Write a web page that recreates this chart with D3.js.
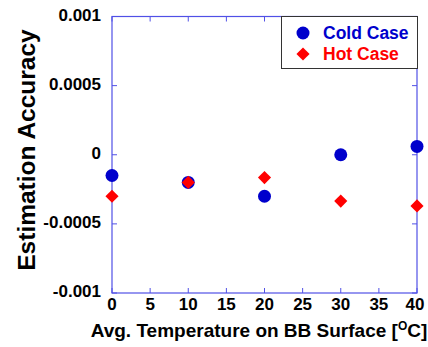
<!DOCTYPE html>
<html>
<head>
<meta charset="utf-8">
<script src="https://cdn.jsdelivr.net/npm/d3@7"></script>
<style>
  body { margin: 0; background: #fff; }
  svg { display: block; font-family: "Liberation Sans", Arial, sans-serif; font-weight: bold; }
</style>
</head>
<body>
<div id="chart"></div>
<script>
const width = 428, height = 347;
const margin = {left: 112, right: 11, top: 16.5, bottom: 54};

// data
const temps = [0, 10, 20, 30, 40];
const coldCase = [-0.00015, -0.0002, -0.0003, 0.0, 0.00006];
const hotCase = [-0.0003, -0.0002, -0.000165, -0.000335, -0.00037];
const xTicks = [0, 5, 10, 15, 20, 25, 30, 35, 40];
const yTicks = [-0.001, -0.0005, 0, 0.0005, 0.001];
const yTickLabels = ["-0.001", "-0.0005", "0", "0.0005", "0.001"];

const axisColor = "#5050e6";
const coldColor = "#0000cc", hotColor = "#ff0000";

const svg = d3.select('#chart').append('svg')
  .attr('width', width).attr('height', height);

const x = d3.scaleLinear().domain([0, 40]).range([margin.left, width - margin.right]);
const y = d3.scaleLinear().domain([-0.001, 0.001]).range([height - margin.bottom, margin.top]);

// frame
svg.append('rect')
  .attr('x', x(0)).attr('y', y(0.001))
  .attr('width', x(40) - x(0)).attr('height', y(-0.001) - y(0.001))
  .attr('fill', 'none').attr('stroke', axisColor).attr('stroke-width', 1.2);

// ticks, all pointing inward
const tick = 5;
xTicks.forEach(function(t){
  svg.append('line').attr('x1', x(t)).attr('x2', x(t))
    .attr('y1', y(-0.001)).attr('y2', y(-0.001) - tick)
    .attr('stroke', axisColor);
  svg.append('line').attr('x1', x(t)).attr('x2', x(t))
    .attr('y1', y(0.001)).attr('y2', y(0.001) + tick)
    .attr('stroke', axisColor);
  svg.append('text').attr('x', x(t) - (t === 40 ? 2 : 0)).attr('y', 310)
    .attr('text-anchor', 'middle').attr('font-size', 17).text(t);
});
yTicks.forEach(function(t, i){
  svg.append('line').attr('x1', x(0)).attr('x2', x(0) + tick)
    .attr('y1', y(t)).attr('y2', y(t)).attr('stroke', axisColor);
  svg.append('line').attr('x1', x(40)).attr('x2', x(40) - tick)
    .attr('y1', y(t)).attr('y2', y(t)).attr('stroke', axisColor);
  svg.append('text').attr('x', 101).attr('y', y(t) + 4)
    .attr('text-anchor', 'end').attr('font-size', 17).text(yTickLabels[i]);
});

// axis titles
svg.append('text')
  .attr('transform', 'translate(35,150) rotate(-90)')
  .attr('text-anchor', 'middle').attr('font-size', 24.5)
  .text('Estimation Accuracy');

const xt = svg.append('text').attr('x', 259).attr('y', 337)
  .attr('text-anchor', 'middle').attr('font-size', 19);
xt.append('tspan').text('Avg. Temperature on BB Surface [');
xt.append('tspan').attr('font-size', 12).attr('dy', -7).text('O');
xt.append('tspan').attr('dy', 7).text('C]');

// points
const diamond = d3.symbol().type(d3.symbolDiamond2).size(110);

svg.selectAll('.cold').data(temps).enter().append('circle')
  .attr('class', 'cold')
  .attr('cx', function(d){ return x(d); })
  .attr('cy', function(d, i){ return y(coldCase[i]); })
  .attr('r', 6.5).attr('fill', coldColor);

svg.selectAll('.hot').data(temps).enter().append('path')
  .attr('class', 'hot')
  .attr('d', diamond)
  .attr('transform', function(d, i){ return 'translate(' + x(d) + ',' + y(hotCase[i]) + ')'; })
  .attr('fill', hotColor);

// legend
const lg = svg.append('g');
lg.append('rect').attr('x', 281.5).attr('y', 16.5).attr('width', 136).attr('height', 52)
  .attr('fill', '#fff').attr('stroke', '#333');
lg.append('circle').attr('cx', 303).attr('cy', 33).attr('r', 6.5).attr('fill', coldColor);
lg.append('path').attr('d', diamond).attr('transform', 'translate(303,54)').attr('fill', hotColor);
lg.append('text').attr('x', 323).attr('y', 39).attr('font-size', 17.5)
  .attr('fill', coldColor).text('Cold Case');
lg.append('text').attr('x', 323).attr('y', 60).attr('font-size', 17.5)
  .attr('fill', hotColor).text('Hot Case');
</script>
</body>
</html>
